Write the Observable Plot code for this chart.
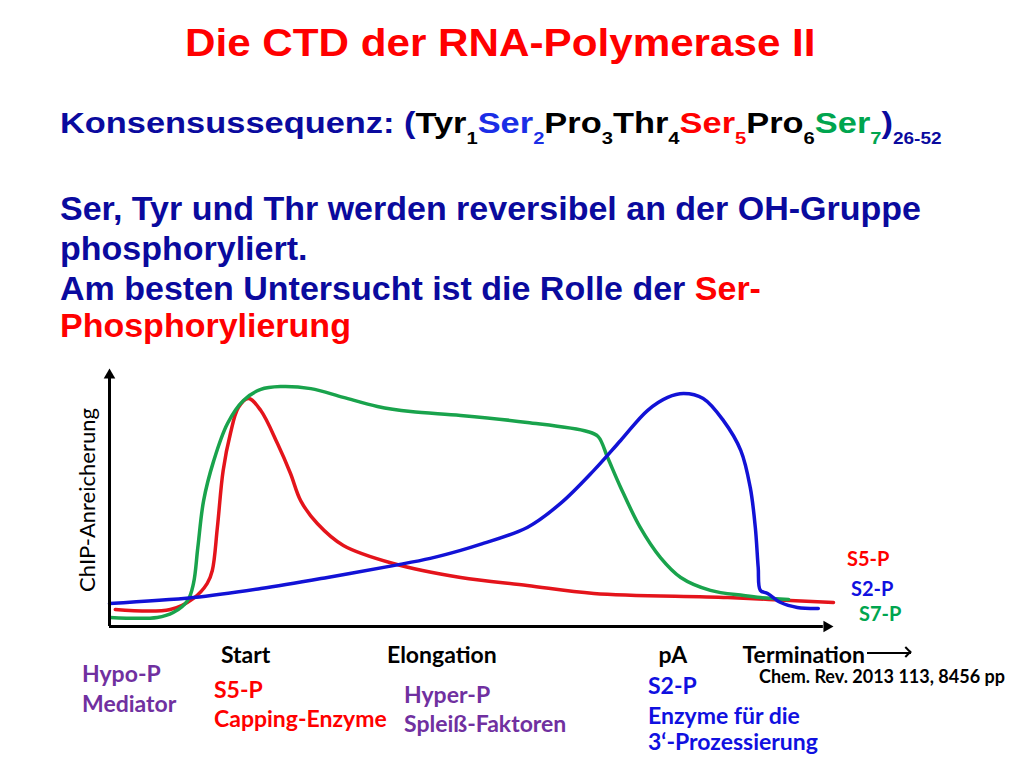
<!DOCTYPE html>
<html>
<head>
<meta charset="utf-8">
<script src="https://cdn.jsdelivr.net/npm/d3@7"></script>
<script src="https://cdn.jsdelivr.net/npm/@observablehq/plot@0.6"></script>
<style>
  html, body { margin: 0; padding: 0; background: #fff; }
  #slide { position: relative; width: 1024px; height: 768px; overflow: hidden; background: #fff; }
  .t { position: absolute; white-space: nowrap; }
  .h { font-family: "Liberation Sans", Arial, sans-serif; font-weight: bold; }
  .c { font-family: Lato, "Open Sans", sans-serif; font-weight: bold; }
  .sub { position: relative; top: 11px; font-size: 17px; }
  .navy { color: #0a0a9e; }
  .red { color: #f00; }
  .blk { color: #000; }
  .blue { color: #1a2ee6; }
  .green { color: #00a54f; }
  .purple { color: #7030a0; }
  .bl2 { color: #1010e0; }
  #plot { position: absolute; left: 0; top: 350px; }
  #arrowLine { position: absolute; left: 867px; top: 652px; width: 44px; height: 2px; background: #000; }
  #arrowHead { position: absolute; left: 902px; top: 648px; width: 8px; height: 8px; border-top: 2px solid #000; border-right: 2px solid #000; transform: rotate(45deg); box-sizing: border-box; }
</style>
</head>
<body>
<div id="slide">
  <div class="t h red" style="left:185px; top:24px; font-size:38px; line-height:38px; transform:scaleX(1.11); transform-origin:0 0;">Die CTD der RNA-Polymerase II</div>

  <div class="t h navy" style="left:60px; top:108.5px; font-size:29px; line-height:29px; transform:scaleX(1.186); transform-origin:0 0;">Konsensussequenz: (<span class="blk">Tyr<span class="sub">1</span></span><span class="blue">Ser<span class="sub">2</span></span><span class="blk">Pro<span class="sub">3</span>Thr<span class="sub">4</span></span><span class="red">Ser<span class="sub">5</span></span><span class="blk">Pro<span class="sub">6</span></span><span class="green">Ser<span class="sub">7</span></span>)<span class="sub" style="font-size:16px;">26-52</span></div>

  <div class="t h navy" style="left:60px; top:191.2px; font-size:34px; line-height:34px;">Ser, Tyr und Thr werden reversibel an der OH-Gruppe</div>
  <div class="t h navy" style="left:60px; top:231.2px; font-size:34px; line-height:34px;">phosphoryliert.</div>
  <div class="t h navy" style="left:60px; top:271.2px; font-size:34px; line-height:34px;">Am besten Untersucht ist die Rolle der <span class="red">Ser-</span></div>
  <div class="t h red" style="left:60px; top:308.2px; font-size:34px; line-height:34px;">Phosphorylierung</div>

  <div id="plot"></div>

  <div style="position:absolute; left:95px; top:500px; transform:rotate(-90deg); transform-origin:0 0;">
    <span class="t" style="left:0; top:-19.5px; font-family:Lato, sans-serif; font-size:22px; line-height:22px; transform:translateX(-50%); color:#000;">ChIP-Anreicherung</span>
  </div>

  <div class="t c red" style="left:847px; top:548.3px; font-size:20px; line-height:20px;">S5-P</div>
  <div class="t c bl2" style="left:851px; top:578.3px; font-size:20px; line-height:20px;">S2-P</div>
  <div class="t c green" style="left:859px; top:603.3px; font-size:20px; line-height:20px;">S7-P</div>

  <div id="arrowLine"></div>
  <div id="arrowHead"></div>

  <div class="t c blk" style="left:759px; top:669px; font-size:18px; line-height:14px;">Chem. Rev. 2013 113, 8456 pp</div>

  <div class="t c purple" style="left:82px; top:661.6px; font-size:23px; line-height:23px;">Hypo-P</div>
  <div class="t c purple" style="left:82px; top:691.6px; font-size:23px; line-height:23px;">Mediator</div>

  <div class="t c red" style="left:214px; top:677.6px; font-size:23px; line-height:23px;">S5-P</div>
  <div class="t c red" style="left:214px; top:706.6px; font-size:23px; line-height:23px;">Capping-Enzyme</div>

  <div class="t c purple" style="left:404px; top:682.6px; font-size:23px; line-height:23px;">Hyper-P</div>
  <div class="t c purple" style="left:404px; top:711.6px; font-size:23px; line-height:23px;">Spleiß-Faktoren</div>

  <div class="t c bl2" style="left:648px; top:673.6px; font-size:23px; line-height:23px;">S2-P</div>
  <div class="t c bl2" style="left:648px; top:703.6px; font-size:23px; line-height:23px;">Enzyme für die</div>
  <div class="t c bl2" style="left:648px; top:729.6px; font-size:23px; line-height:23px;">3‘-Prozessierung</div>
</div>

<script>
// Stages along the gene (x-axis labels)
const stages = ["Start", "Elongation", "pA", "Termination"];
const stagePos = [18.8, 45.9, 77.8, 95.9];

// Series names and colours
const seriesNames = ["S5-P", "S7-P", "S2-P"];
const seriesColors = ["#e4141b", "#19a34c", "#1212d6"];

// S5-P (red)
const s5Pos = [0.8, 8.4, 11.6, 13.5, 14.2, 14.9, 15.7, 16.7, 17.8, 19.2, 20.9, 23.2, 25.0, 26.4, 28.7, 32.3, 39.2, 48.5, 57.7, 66.9, 85.4, 100];
const s5Val = [6.6, 6.6, 10.9, 16.7, 21.7, 38.4, 60.5, 74.8, 84.9, 88.4, 83.7, 70.9, 59.3, 48.8, 39.9, 31.4, 24.4, 19.0, 15.9, 12.8, 11.2, 9.3];

// S7-P (green)
const s7Pos = [0.1, 6.6, 8.8, 10.8, 11.6, 12.2, 13.0, 14.4, 16.3, 18.5, 20.9, 23.6, 27.8, 32.3, 37.0, 41.6, 48.5, 57.7, 66.0, 67.5, 68.8, 70.6, 73.3, 76.1, 78.9, 83.0, 87.6, 89.9, 93.8];
const s7Val = [3.5, 3.5, 5.4, 10.1, 16.7, 30.6, 48.8, 64.3, 78.7, 87.6, 91.9, 93.0, 92.2, 88.8, 85.3, 83.3, 81.8, 79.1, 75.6, 73.6, 65.5, 53.9, 38.4, 26.7, 19.0, 14.0, 12.0, 11.2, 10.5];

// S2-P (blue)
const s2Pos = [0, 11.6, 20.9, 30.1, 39.2, 44.3, 48.5, 51.2, 57.7, 62.3, 66.9, 70.6, 74.3, 77.1, 79.3, 82.0, 84.8, 87.2, 88.5, 89.2, 89.6, 89.9, 90.9, 92.7, 95.0, 97.9];
const s2Val = [8.9, 11.2, 14.7, 19.0, 23.6, 26.4, 29.5, 31.8, 38.4, 47.7, 60.5, 72.1, 83.7, 88.8, 90.3, 88.4, 79.8, 68.2, 53.9, 38.4, 22.9, 14.0, 12.8, 9.3, 7.4, 7.0];

const rows = [];
[[s5Pos, s5Val], [s7Pos, s7Val], [s2Pos, s2Val]].forEach(([p, v], k) => {
  p.forEach((x, i) => rows.push({series: seriesNames[k], pos: x, val: v[i]}));
});

const chart = Plot.plot({
  width: 1024,
  height: 330,
  marginLeft: 109,
  marginRight: 191,
  marginTop: 18,
  marginBottom: 54,
  style: {background: "transparent", overflow: "visible"},
  x: {domain: [0, 100], axis: null},
  y: {domain: [0, 100], axis: null},
  color: {domain: seriesNames, range: seriesColors},
  marks: [
    Plot.line(rows, {x: "pos", y: "val", z: "series", stroke: "series", strokeWidth: 3.5, curve: "catmull-rom"}),
    Plot.ruleX([0], {y1: 0, y2: 97, stroke: "#000", strokeWidth: 3}),
    Plot.ruleY([0], {x1: 0, x2: 98.6, stroke: "#000", strokeWidth: 3}),
    Plot.dot([0], {x: 0, y: 100, symbol: "triangle", r: 4.3, fill: "#000", stroke: "none", dy: 6.7}),
    Plot.dot([0], {x: 100, y: 0, symbol: "triangle", r: 4.3, fill: "#000", stroke: "none", rotate: 90, dx: -6.7}),
    Plot.axisX({
      ticks: stagePos,
      tickFormat: d => stages[stagePos.indexOf(d)],
      tickSize: 0,
      tickPadding: 20,
      fontSize: 23,
      fontFamily: "Lato",
      fontWeight: "bold",
      fill: "#000",
      label: null
    })
  ]
});
document.getElementById("plot").appendChild(chart);
</script>
</body>
</html>
